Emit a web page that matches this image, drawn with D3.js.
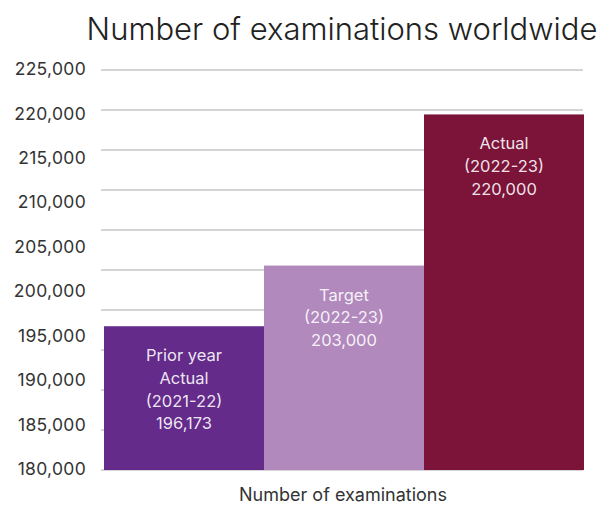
<!DOCTYPE html>
<html>
<head>
<meta charset="utf-8">
<script src="https://cdn.jsdelivr.net/npm/d3@7"></script>
<style>
	body { margin: 0; background: #fff; }
	text { font-family: Inter, "Noto Sans", sans-serif; }
</style>
</head>
<body>
<div id="vis"></div>
<script>
// chart data
var categories = ["Prior year Actual", "Target", "Actual"];
var values = [196173, 203000, 220000];
var barLabels = [
	["Prior year", "Actual", "(2021-22)", "196,173"],
	["Target", "(2022-23)", "203,000"],
	["Actual", "(2022-23)", "220,000"]
];
var colors = ["#642b8b", "#b189bd", "#7c1339"];
var tickValues = [180000, 185000, 190000, 195000, 200000, 205000, 210000, 215000, 220000, 225000];
var gridValues = [180000, 184500, 189000, 193500, 198000, 202500, 207000, 211500, 216000, 220500, 225000];

var width = 601;
var height = 506;

var svg = d3.select('#vis').append('svg')
	.attr('width', width)
	.attr('height', height);

var x = d3.scaleBand()
	.range([104, 584])
	.padding(0)
	.domain(categories);

var y = d3.scaleLinear()
	.range([470, 70])
	.domain([180000, 225000]);

// title
svg.append('text')
	.attr('x', 342)
	.attr('y', 40)
	.attr('text-anchor', 'middle')
	.attr('font-size', '31px')
	.attr('font-weight', 300)
	.attr('fill', '#222')
	.text('Number of examinations worldwide');

// gridlines
svg.append('g')
	.selectAll('line')
	.data(gridValues)
	.enter().append('line')
	.attr('x1', 101)
	.attr('x2', 583)
	.attr('y1', function (d) { return y(d); })
	.attr('y2', function (d) { return y(d); })
	.attr('stroke', '#d4d4d4')
	.attr('stroke-width', 2.2);

// y tick labels
svg.append('g')
	.selectAll('text')
	.data(tickValues)
	.enter().append('text')
	.attr('x', 86)
	.attr('y', function (d) { return y(d) - 1; })
	.attr('dy', '0.35em')
	.attr('text-anchor', 'end')
	.attr('font-size', '17.5px')
	.attr('letter-spacing', '0.3px')
	.attr('fill', '#333')
	.text(function (d) { return d3.format(',')(d); });

// bars
svg.selectAll('.bar')
	.data(values)
	.enter().append('rect')
	.attr('class', 'bar')
	.attr('x', function (d, i) { return x(categories[i]); })
	.attr('y', function (d) { return y(d); })
	.attr('width', x.bandwidth())
	.attr('height', function (d) { return y(180000) - y(d); })
	.attr('fill', function (d, i) { return colors[i]; });

// bar labels
values.forEach(function (v, i) {
	var t = svg.append('text')
		.attr('text-anchor', 'middle')
		.attr('font-size', '16.5px')
		.attr('fill', '#fff')
		.attr('fill-opacity', 0.9);
	barLabels[i].forEach(function (line, j) {
		t.append('tspan')
			.attr('x', x(categories[i]) + x.bandwidth() / 2)
			.attr('y', y(v) + 35 + j * 22.7)
			.text(line);
	});
});

// x axis title
svg.append('text')
	.attr('x', 343)
	.attr('y', 501)
	.attr('text-anchor', 'middle')
	.attr('font-size', '18px')
	.attr('fill', '#333')
	.text('Number of examinations');
</script>
</body>
</html>
